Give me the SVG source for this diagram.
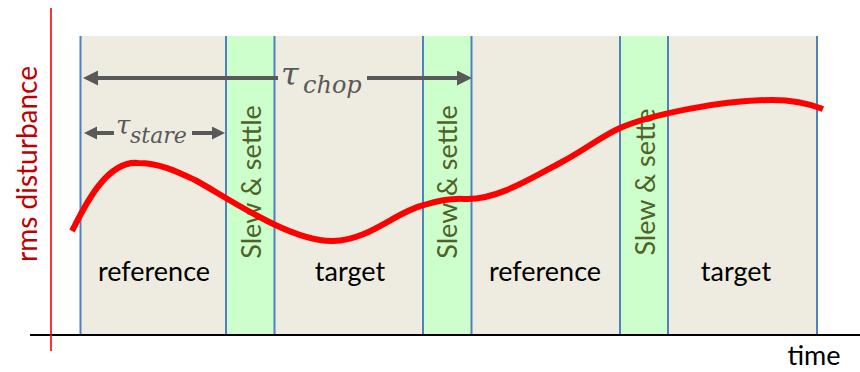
<svg xmlns="http://www.w3.org/2000/svg" width="860" height="372" viewBox="0 0 860 372">
<defs>
<style>
.bg{fill:#EEECE1}
.band{fill:#CCFFCC}
.sep{stroke:#4F81BD;stroke-width:2;fill:none}
.lbl{font-family:Lato,"Liberation Sans",sans-serif;font-size:27px;fill:#000;text-anchor:middle}
.slew{font-family:Lato,"Liberation Sans",sans-serif;font-size:27px;fill:#4F6228;text-anchor:middle}
.arr{stroke:#595959;stroke-width:4;fill:none}
.tau{font-family:"DejaVu Serif",serif;font-style:italic;fill:#595959}
</style>
<marker id="hb" markerUnits="userSpaceOnUse" markerWidth="16" markerHeight="16" refX="0" refY="7.5" orient="auto"><path d="M0,0 L15,7.5 L0,15 z" fill="#595959"/></marker>
<marker id="hs" markerUnits="userSpaceOnUse" markerWidth="14" markerHeight="14" refX="0" refY="6.5" orient="auto"><path d="M0,0 L13,6.5 L0,13 z" fill="#595959"/></marker>
</defs>
<rect width="860" height="372" fill="#fff"/>
<g id="background">
<rect class="bg" x="80" y="36" width="738" height="299"/>
<rect class="band" x="226" y="36" width="49" height="299"/>
<rect class="band" x="423" y="36" width="49" height="299"/>
<rect class="band" x="620" y="36" width="48" height="299"/>
<path class="sep" d="M80.5,36V335M226,36V335M274.5,36V335M423,36V335M471.5,36V335M620,36V335M668,36V335M817,36V335"/>
</g>
<g id="axes">
<line x1="30" y1="335" x2="860" y2="335" stroke="#000" stroke-width="2"/>
<line x1="51" y1="8" x2="51" y2="351" stroke="#FF0000" stroke-width="1.6"/>
<text transform="translate(37,164) rotate(-90)" font-family="Lato,'Liberation Sans',sans-serif" font-size="28" fill="#C00000" text-anchor="middle">rms disturbance</text>
<text x="814" y="365" class="lbl" font-size="26">time</text>
</g>
<g id="phase-ref1"><text class="lbl" x="154" y="281">reference</text></g>
<g id="slew1"><text class="slew" transform="translate(261,182) rotate(-90)">Slew &amp; settle</text></g>
<g id="phase-tgt1"><text class="lbl" x="350" y="281">target</text></g>
<g id="slew2"><text class="slew" transform="translate(457,182) rotate(-90)">Slew &amp; settle</text></g>
<g id="phase-ref2"><text class="lbl" x="545" y="281">reference</text></g>
<g id="slew3"><text class="slew" transform="translate(655,182) rotate(-90)">Slew &amp; sette</text></g>
<g id="phase-tgt2"><text class="lbl" x="736" y="281">target</text></g>
<g id="curve">
<path d="M72,231 C82,212 105,160 138,163 C160,163 178,172 195,180 C225,196 290,242 333,241 C370,240 395,212 424,205 C437,201 450,198 465,199 C495,200 525,182 560,163 C585,150 600,137 620,128 C650,115 720,100 772,100 C795,100 810,104 823,109" fill="none" stroke="#FF0000" stroke-width="6"/>
</g>
<g id="connectors">
<line class="arr" x1="278" y1="78" x2="98" y2="78" marker-end="url(#hb)"/>
<line class="arr" x1="367" y1="78" x2="457" y2="78" marker-end="url(#hb)"/>
<line class="arr" x1="114" y1="133" x2="97" y2="133" marker-end="url(#hs)"/>
<line class="arr" x1="192" y1="133" x2="212" y2="133" marker-end="url(#hs)"/>
</g>
<g id="tau-chop"><text class="tau" x="281" y="85" font-size="32">τ</text><text class="tau" x="303" y="93" font-size="24">chop</text></g>
<g id="tau-stare"><text class="tau" x="116" y="134" font-size="26">τ</text><text class="tau" x="130" y="143" font-size="22">stare</text></g>
</svg>
